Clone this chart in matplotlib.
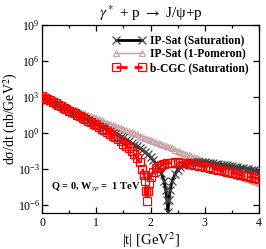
import numpy as np
import matplotlib
matplotlib.use("Agg")
import matplotlib.pyplot as plt
from matplotlib.ticker import FixedLocator, NullLocator, MultipleLocator

plt.rcParams['font.family'] = ['Liberation Serif', 'DejaVu Serif']
plt.rcParams['mathtext.fontset'] = 'stix'

# IP-Sat (Saturation), log10 of dsigma/dt
t_ipsat = [0.00, 0.05, 0.10, 0.15, 0.20, 0.25, 0.30, 0.35, 0.40, 0.45,
           0.50, 0.55, 0.60, 0.65, 0.70, 0.75, 0.80, 0.85, 0.90, 0.95,
           1.00, 1.05, 1.10, 1.15, 1.20, 1.25, 1.30, 1.35, 1.40, 1.45,
           1.50, 1.55, 1.60, 1.65, 1.70, 1.75, 1.80, 1.85, 1.90, 1.95,
           2.00, 2.05, 2.10, 2.15, 2.20, 2.25, 2.28, 2.30, 2.32, 2.34,
           2.36, 2.40, 2.45, 2.50, 2.55, 2.60, 2.65, 2.70, 2.75, 2.80,
           2.85, 2.90, 2.95, 3.00, 3.05, 3.10, 3.15, 3.20, 3.25, 3.30,
           3.35, 3.40, 3.45, 3.50, 3.55, 3.60, 3.65, 3.70, 3.75, 3.80,
           3.85, 3.90, 3.95, 4.00]
lg_ipsat = [3.00, 2.89, 2.77, 2.66, 2.54, 2.43, 2.31, 2.20, 2.08, 1.97,
            1.85, 1.74, 1.62, 1.51, 1.39, 1.28, 1.16, 1.05, 0.93, 0.82,
            0.70, 0.59, 0.47, 0.36, 0.24, 0.12, 0.00, -0.12, -0.24, -0.36,
            -0.48, -0.60, -0.73, -0.86, -0.99, -1.13, -1.28, -1.44, -1.62, -1.82,
            -2.05, -2.30, -2.60, -2.95, -3.40, -4.05, -4.80, -5.60, -6.60, -5.60,
            -4.80, -4.00, -3.45, -3.10, -2.88, -2.73, -2.62, -2.54, -2.49, -2.46,
            -2.45, -2.45, -2.46, -2.48, -2.51, -2.53, -2.56, -2.59, -2.63, -2.66,
            -2.70, -2.73, -2.77, -2.80, -2.84, -2.88, -2.92, -2.96, -3.00, -3.04,
            -3.08, -3.12, -3.16, -3.20]

# IP-Sat (1-Pomeron)
t_pom = [0.00, 0.05, 0.10, 0.15, 0.20, 0.25, 0.30, 0.35, 0.40, 0.45,
         0.50, 0.55, 0.60, 0.65, 0.70, 0.75, 0.80, 0.85, 0.90, 0.95,
         1.00, 1.05, 1.10, 1.15, 1.20, 1.25, 1.30, 1.35, 1.40, 1.45,
         1.50, 1.55, 1.60, 1.65, 1.70, 1.75, 1.80, 1.85, 1.90, 1.95,
         2.00, 2.05, 2.10, 2.15, 2.20, 2.25, 2.30, 2.35, 2.40, 2.45,
         2.50, 2.55, 2.60, 2.65, 2.70, 2.75, 2.80, 2.85, 2.90, 2.95,
         3.00, 3.05, 3.10, 3.15, 3.20, 3.25, 3.30, 3.35, 3.40, 3.45,
         3.50, 3.55, 3.60, 3.65, 3.70, 3.75, 3.80, 3.85, 3.90, 3.95, 4.00]
lg_pom = [3.00, 2.91, 2.82, 2.73, 2.64, 2.55, 2.46, 2.37, 2.28, 2.19,
          2.10, 2.01, 1.92, 1.83, 1.74, 1.65, 1.56, 1.47, 1.38, 1.29,
          1.20, 1.11, 1.02, 0.93, 0.84, 0.75, 0.66, 0.57, 0.48, 0.39,
          0.30, 0.21, 0.12, 0.03, -0.06, -0.15, -0.24, -0.33, -0.42, -0.51,
          -0.60, -0.69, -0.78, -0.87, -0.96, -1.05, -1.14, -1.23, -1.32, -1.41,
          -1.50, -1.59, -1.68, -1.77, -1.86, -1.95, -2.04, -2.13, -2.22, -2.31,
          -2.40, -2.49, -2.58, -2.67, -2.76, -2.85, -2.94, -3.03, -3.12, -3.21,
          -3.30, -3.39, -3.48, -3.57, -3.66, -3.75, -3.84, -3.93, -4.02, -4.11, -4.20]

# b-CGC (Saturation)
t_bcgc = [0.00, 0.05, 0.10, 0.15, 0.20, 0.25, 0.30, 0.35, 0.40, 0.45,
          0.50, 0.55, 0.60, 0.65, 0.70, 0.75, 0.80, 0.85, 0.90, 0.95,
          1.00, 1.05, 1.10, 1.15, 1.20, 1.25, 1.30, 1.35, 1.40, 1.45,
          1.50, 1.55, 1.60, 1.65, 1.70, 1.75, 1.80, 1.85, 1.88, 1.90,
          1.92, 1.935, 1.95, 1.97, 2.00, 2.05, 2.10, 2.15, 2.20, 2.25,
          2.30, 2.35, 2.40, 2.45, 2.50, 2.55, 2.60, 2.65, 2.70, 2.75,
          2.80, 2.85, 2.90, 2.95, 3.00, 3.05, 3.10, 3.15, 3.20, 3.25,
          3.30, 3.35, 3.40, 3.45, 3.50, 3.55, 3.60, 3.65, 3.70, 3.75,
          3.80, 3.85, 3.90, 3.95, 4.00]
lg_bcgc = [3.05, 2.93, 2.81, 2.69, 2.57, 2.45, 2.33, 2.21, 2.09, 1.97,
           1.85, 1.73, 1.61, 1.49, 1.37, 1.25, 1.13, 1.00, 0.87, 0.74,
           0.61, 0.48, 0.34, 0.20, 0.06, -0.09, -0.24, -0.40, -0.56, -0.73,
           -0.91, -1.10, -1.31, -1.54, -1.80, -2.10, -2.48, -3.00, -3.50, -4.00,
           -4.90, -5.70, -4.90, -4.20, -3.70, -3.25, -2.98, -2.80, -2.68, -2.60,
           -2.55, -2.52, -2.50, -2.49, -2.49, -2.50, -2.52, -2.55, -2.58, -2.62,
           -2.66, -2.70, -2.75, -2.80, -2.85, -2.90, -2.95, -3.00, -3.05, -3.10,
           -3.15, -3.20, -3.25, -3.30, -3.35, -3.40, -3.45, -3.50, -3.55, -3.60,
           -3.65, -3.70, -3.75, -3.80, -3.85]

fig = plt.figure(figsize=(2.66, 2.49), dpi=100)
ax = fig.add_axes([0.158, 0.145, 0.816, 0.755])

ax.plot(t_pom, 10 ** np.array(lg_pom), color='#c8a0a0', lw=1.0,
        marker='^', ms=5, mfc='none', mec='#c8a0a0', mew=0.8,
        label='IP-Sat (1-Pomeron)', zorder=2)
ax.plot(t_ipsat, 10 ** np.array(lg_ipsat), color='black', lw=2.0,
        marker='x', ms=6, mew=0.9, mec='#444444',
        label='IP-Sat (Saturation)', zorder=3)
ax.plot(t_bcgc, 10 ** np.array(lg_bcgc), color='red', lw=2.0, ls=(0, (4, 2.5)),
        marker='s', ms=6, mfc='none', mec='red', mew=0.9,
        label='b-CGC (Saturation)', zorder=4)

ax.set_yscale('log')
ax.set_xlim(0, 4)
ax.set_ylim(2e-7, 1e9)
ax.yaxis.set_major_locator(FixedLocator([1e-6, 1e-3, 1e0, 1e3, 1e6, 1e9]))
ax.yaxis.set_minor_locator(NullLocator())
ax.xaxis.set_major_locator(MultipleLocator(1))
ax.xaxis.set_minor_locator(MultipleLocator(0.5))
ax.tick_params(which='both', direction='in', top=True, right=True, labelsize=8.5)
ax.tick_params(axis='y', pad=1.5)
ax.tick_params(axis='x', pad=3)
ax.tick_params(which='major', length=4, width=0.9)
ax.tick_params(which='minor', length=2, width=0.9)
for s in ax.spines.values():
    s.set_linewidth(0.9)

ax.set_xlabel('|t| [GeV$^2$]', fontsize=10.5, labelpad=1)
ax.set_ylabel('d\u03c3/dt (nb/GeV$^2$)', fontsize=10)
ax.yaxis.set_label_coords(-0.1, 0.5)
ax.set_title('$\\gamma^*$ + p $\\rightarrow$ J/\u03c8+p', fontsize=11, pad=5)

ax.text(0.17, 10 ** -4.6, 'Q = 0, W$_{\\gamma p}$ =  1 TeV', fontsize=7.5,
        fontweight='bold', va='center')

h, l = ax.get_legend_handles_labels()
order = [1, 0, 2]
ax.legend([h[i] for i in order], [l[i] for i in order], loc='upper right',
          frameon=False, prop={'weight': 'bold', 'size': 8.3},
          handlelength=2.9, numpoints=2, labelspacing=0.15,
          borderaxespad=0.2, handletextpad=0.4, bbox_to_anchor=(0.985, 0.985))

fig.savefig('out.png', dpi=100)
